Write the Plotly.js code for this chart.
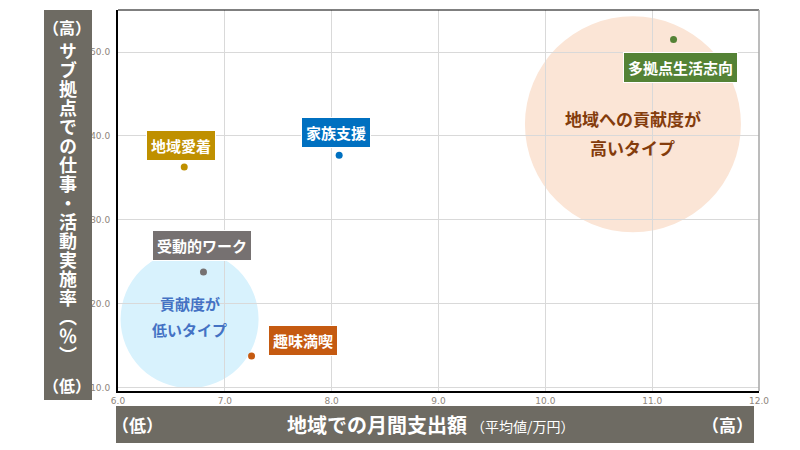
<!DOCTYPE html>
<html>
<head>
<meta charset="utf-8">
<script src="https://cdn.plot.ly/plotly-3.0.1.min.js"></script>
<style>
  html, body { margin: 0; padding: 0; background: #fff; }
  #chart { width: 800px; height: 450px; }
</style>
</head>
<body>
<div id="chart"></div>
<script>
// Data
const types = ["地域愛着", "家族支援", "受動的ワーク", "趣味満喫", "多拠点生活志向"];
const monthlySpend = [6.62, 8.07, 6.80, 7.25, 11.20];   // 万円
const activityRate = [36.3, 37.7, 23.8, 13.8, 51.5];    // %
const xTicks = [6, 7, 8, 9, 10, 11, 12];
const yTicks = [10, 20, 30, 40, 50];

// Styling (not data)
const typeColors = ["#BF9000", "#0070C0", "#767171", "#C55A11", "#548235"];
const labelShift = [[-3, 22], [-3, 23], [-1, 27], [51, 16], [7, -28]];

const FONT = "'Noto Sans CJK JP', 'Noto Sans', sans-serif";
const BOX_GRAY = "#6E6B63";

// plot area in pixels
const M = { l: 118, r: 41, t: 10, b: 59 };
const W = 800 - M.l - M.r;
const H = 450 - M.t - M.b;
const px = x => (x - M.l) / W;
const py = y => (450 - M.b - y) / H;

const trace = {
    type: "scatter",
    mode: "markers",
    x: monthlySpend,
    y: activityRate,
    text: types,
    marker: { color: typeColors, size: 7 },
    hoverinfo: "text+x+y",
    showlegend: false
};

// type labels in filled boxes
const labelAnnotations = types.map((t, i) => ({
    x: monthlySpend[i], y: activityRate[i], xref: "x", yref: "y",
    text: "<b>" + t + "</b>",
    showarrow: false,
    xshift: labelShift[i][0], yshift: labelShift[i][1],
    font: { family: FONT, size: 15, color: "#FFFFFF" },
    bgcolor: typeColors[i],
    bordercolor: "#FFFFFF", borderwidth: 1, borderpad: 4
}));

// group circles (centre in data units, radius in pixels)
const groups = [
    { cx: 6.67, cy: 18.2, r: 69, fill: "#D8F2FD", color: "#4472C4", size: 15,
      lines: ["貢献度が", "低いタイプ"], shifts: [16, -10] },
    { cx: 10.82, cy: 41.4, r: 108, fill: "#FBE5D6", color: "#843C0C", size: 17,
      lines: ["地域への貢献度が", "高いタイプ"], shifts: [6, -23] }
];

const circleShapes = groups.map(g => ({
    type: "circle", layer: "below",
    xref: "x", yref: "y",
    xsizemode: "pixel", ysizemode: "pixel",
    xanchor: g.cx, yanchor: g.cy,
    x0: -g.r, x1: g.r, y0: -g.r, y1: g.r,
    fillcolor: g.fill, line: { width: 0 }
}));

const groupAnnotations = [];
groups.forEach(g => {
    g.lines.forEach((line, k) => {
        groupAnnotations.push({
            x: g.cx, y: g.cy, xref: "x", yref: "y",
            text: "<b>" + line + "</b>", showarrow: false,
            yshift: g.shifts[k],
            font: { family: FONT, size: g.size, color: g.color }
        });
    });
});

// axis title boxes
const frameShapes = [
    { type: "rect", layer: "above", xref: "paper", yref: "paper",
      x0: px(44), x1: px(92), y0: py(400), y1: py(10),
      fillcolor: BOX_GRAY, line: { width: 0 } },
    { type: "rect", layer: "above", xref: "paper", yref: "paper",
      x0: px(116), x1: px(754), y0: py(443), y1: py(406),
      fillcolor: BOX_GRAY, line: { width: 0 } },
    // top and right border of the plot
    { type: "line", layer: "above", xref: "paper", yref: "paper",
      x0: 0, x1: 1, y0: 1, y1: 1, line: { color: "#000000", width: 1 } },
    { type: "line", layer: "above", xref: "paper", yref: "paper",
      x0: 1, x1: 1, y0: 0, y1: 1, line: { color: "#A6A6A6", width: 1.5 } }
];

function titleText(text, x, y, size, opts = {}) {
    return Object.assign({
        xref: "paper", yref: "paper", x: px(x), y: py(y),
        text: text, showarrow: false,
        xanchor: "center", yanchor: "middle",
        font: { family: FONT, size: size, color: "#FFFFFF" }
    }, opts);
}

// vertical y title (turned to vertical writing after drawing)
const Y_TITLE = "サブ拠点での仕事・活動実施率（％）";
const Y_TITLE_CENTER = [68, 204];

const axisTitleAnnotations = [
    titleText("<b>" + Y_TITLE + "</b>", Y_TITLE_CENTER[0], Y_TITLE_CENTER[1], 18),
    titleText("<b>（高）</b>", 67, 27, 16),
    titleText("<b>（低）</b>", 67, 385, 16),
    titleText("<b>（低）</b>", 137, 425, 17),
    titleText("<b>地域での月間支出額</b>", 469, 425, 20, { xanchor: "right" }),
    titleText("（平均値/万円）", 469, 426, 14, { xanchor: "left" }),
    titleText("<b>（高）</b>", 727, 425, 17)
];

const tickFont = { family: "Verdana, 'DejaVu Sans', sans-serif", size: 9, color: "#8E857C" };

const layout = {
    width: 800, height: 450,
    margin: M,
    paper_bgcolor: "#FFFFFF",
    plot_bgcolor: "#FFFFFF",
    showlegend: false,
    xaxis: {
        range: [6, 12], tickvals: xTicks, tickformat: ".1f",
        showgrid: true, gridcolor: "#D9D9D9", gridwidth: 1,
        zeroline: false, showline: true, linecolor: "#000000", linewidth: 2,
        ticks: "", tickfont: tickFont
    },
    yaxis: {
        range: [9.64, 55], tickvals: yTicks, tickformat: ".1f",
        showgrid: true, gridcolor: "#D9D9D9", gridwidth: 1,
        zeroline: false, showline: true, linecolor: "#000000", linewidth: 2,
        ticks: "", tickfont: tickFont, ticklabelstandoff: 4
    },
    shapes: [...circleShapes, ...frameShapes],
    annotations: [...groupAnnotations, ...labelAnnotations, ...axisTitleAnnotations]
};

const yTitleIndex = groupAnnotations.length + labelAnnotations.length;

Plotly.newPlot("chart", [trace], layout, { displayModeBar: false, staticPlot: true })
    .then(gd => {
        // plotly has no vertical text, so switch the y title to vertical writing
        const ann = gd.querySelector('.annotation[data-index="' + yTitleIndex + '"]');
        const txt = ann && ann.querySelector("text.annotation-text");
        if (!txt) return;
        txt.style.writingMode = "vertical-rl";
        txt.style.letterSpacing = "1px";

        const bb = txt.getBBox();
        const ctm = txt.getScreenCTM();
        const host = gd.getBoundingClientRect();
        const cx = ctm.e + ctm.a * (bb.x + bb.width / 2) - host.left;
        const cy = ctm.f + ctm.d * (bb.y + bb.height / 2) - host.top;
        txt.setAttribute("x", +txt.getAttribute("x") + (Y_TITLE_CENTER[0] - cx));
        txt.setAttribute("y", +txt.getAttribute("y") + (Y_TITLE_CENTER[1] - cy));
    });
</script>
</body>
</html>
